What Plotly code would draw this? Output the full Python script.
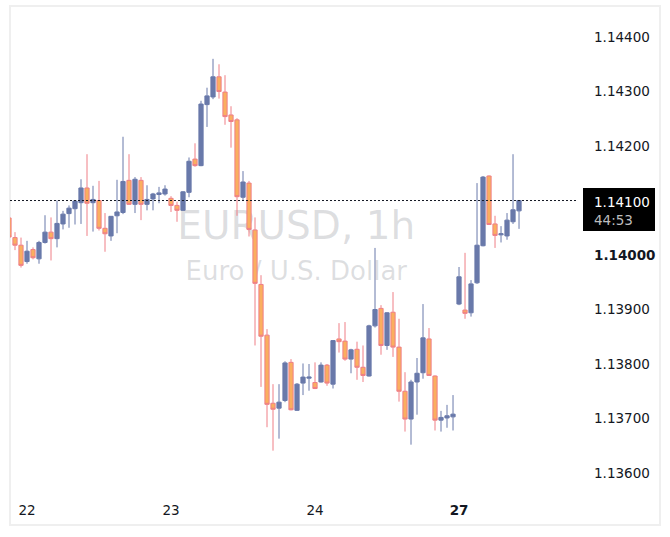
import pandas as pd
import plotly.graph_objects as go

# ---------------- data ----------------
times_fri = pd.date_range("2021-12-21 21:00", periods=72, freq="h")
times_mon = pd.date_range("2021-12-26 21:00", periods=14, freq="h")
times = [t.strftime("%Y-%m-%d %H:%M") for t in list(times_fri) + list(times_mon)]

opens = [1.14068, 1.14032, 1.14018, 1.13988, 1.14010, 1.13993, 1.14023, 1.14042, 1.14030, 1.14057,
         1.14076, 1.14085, 1.14096, 1.14123, 1.14096, 1.14100, 1.14049, 1.14035, 1.14072, 1.14078,
         1.14137, 1.14093, 1.14137, 1.14093, 1.14103, 1.14111, 1.14112, 1.14104, 1.14091, 1.14082,
         1.14115, 1.14176, 1.14164, 1.14276, 1.14290, 1.14327, 1.14299, 1.14257, 1.14248, 1.14106,
         1.14132, 1.14046, 1.13946, 1.13853, 1.13728, 1.13719, 1.13733, 1.13803, 1.13715, 1.13765,
         1.13774, 1.13766, 1.13767, 1.13798, 1.13763, 1.13846, 1.13842, 1.13809, 1.13827, 1.13794,
         1.13778, 1.13870, 1.13902, 1.13834, 1.13895, 1.13831, 1.13750, 1.13699, 1.13767, 1.13784,
         1.13846, 1.13778, 1.13697, 1.13701, 1.13703, 1.13910, 1.13899, 1.13894, 1.13949, 1.14017,
         1.14145, 1.14057, 1.14037, 1.14035, 1.14061, 1.14081]
highs = [1.14072, 1.14042, 1.14032, 1.14026, 1.14014, 1.14026, 1.14073, 1.14069, 1.14100, 1.14081,
         1.14091, 1.14100, 1.14139, 1.14185, 1.14127, 1.14136, 1.14077, 1.14071, 1.14138, 1.14217,
         1.14185, 1.14143, 1.14143, 1.14128, 1.14114, 1.14125, 1.14128, 1.14108, 1.14098, 1.14117,
         1.14179, 1.14205, 1.14283, 1.14307, 1.14360, 1.14350, 1.14330, 1.14273, 1.14251, 1.14154,
         1.14136, 1.14069, 1.13963, 1.13864, 1.13763, 1.13763, 1.13805, 1.13809, 1.13765, 1.13801,
         1.13800, 1.13803, 1.13803, 1.13800, 1.13844, 1.13875, 1.13877, 1.13828, 1.13841, 1.13834,
         1.13872, 1.14013, 1.13908, 1.13895, 1.13932, 1.13883, 1.13785, 1.13771, 1.13811, 1.13910,
         1.13866, 1.13779, 1.13714, 1.13725, 1.13743, 1.13978, 1.14004, 1.13954, 1.14132, 1.14145,
         1.14146, 1.14072, 1.14053, 1.14077, 1.14185, 1.14101]
lows = [1.14031, 1.14009, 1.13977, 1.13984, 1.13992, 1.13984, 1.14021, 1.13990, 1.14014, 1.14047,
        1.14050, 1.14056, 1.14057, 1.14035, 1.14043, 1.14045, 1.14006, 1.14026, 1.14040, 1.14075,
        1.14092, 1.14077, 1.14064, 1.14082, 1.14082, 1.14095, 1.14109, 1.14079, 1.14061, 1.14081,
        1.14106, 1.14162, 1.14163, 1.14235, 1.14286, 1.14287, 1.14239, 1.14197, 1.14072, 1.14101,
        1.14034, 1.13834, 1.13758, 1.13684, 1.13641, 1.13663, 1.13730, 1.13715, 1.13714, 1.13743,
        1.13751, 1.13754, 1.13766, 1.13760, 1.13755, 1.13821, 1.13806, 1.13783, 1.13771, 1.13767,
        1.13777, 1.13867, 1.13817, 1.13826, 1.13813, 1.13731, 1.13676, 1.13652, 1.13707, 1.13773,
        1.13778, 1.13678, 1.13676, 1.13683, 1.13678, 1.13908, 1.13883, 1.13887, 1.13947, 1.14016,
        1.14055, 1.14013, 1.14023, 1.14028, 1.14057, 1.14048]
closes = [1.14033, 1.14018, 1.13981, 1.14007, 1.13995, 1.14023, 1.14042, 1.14030, 1.14058, 1.14075,
          1.14086, 1.14099, 1.14123, 1.14095, 1.14102, 1.14049, 1.14039, 1.14071, 1.14079, 1.14135,
          1.14093, 1.14139, 1.14093, 1.14102, 1.14112, 1.14114, 1.14121, 1.14091, 1.14082, 1.14116,
          1.14172, 1.14164, 1.14277, 1.14292, 1.14327, 1.14300, 1.14254, 1.14245, 1.14107, 1.14134,
          1.14047, 1.13948, 1.13851, 1.13726, 1.13717, 1.13730, 1.13802, 1.13716, 1.13763, 1.13776,
          1.13776, 1.13755, 1.13798, 1.13765, 1.13843, 1.13841, 1.13809, 1.13826, 1.13794, 1.13779,
          1.13870, 1.13900, 1.13834, 1.13894, 1.13831, 1.13750, 1.13699, 1.13767, 1.13783, 1.13848,
          1.13779, 1.13697, 1.13702, 1.13705, 1.13708, 1.13960, 1.13893, 1.13947, 1.14018, 1.14143,
          1.14056, 1.14036, 1.14039, 1.14064, 1.14083, 1.14100]

x_tick_times = ["2021-12-22 00:00", "2021-12-23 00:00", "2021-12-24 00:00", "2021-12-27 00:00"]
x_tick_text = ["22", "23", "24", "<b>27</b>"]
y_tick_vals = [1.136, 1.137, 1.138, 1.139, 1.140, 1.142, 1.143, 1.144]
y_tick_text = ["1.13600", "1.13700", "1.13800", "1.13900", "<b>1.14000</b>",
               "1.14200", "1.14300", "1.14400"]
watermark_title = "EURUSD, 1h"
watermark_sub = "Euro / U.S. Dollar"
countdown = "44:53"

# ---------------- styles ----------------
FONT = "DejaVu Sans"
TXT = "#131722"
BLUE = "#6979AA"
ORANGE_FILL = "#FAAF5F"
ORANGE_LINE = "#EF7F86"

fig = go.Figure()

# watermark on the base subplot (drawn below the overlaid candle subplot)
fig.add_trace(go.Scatter(
    x=[0.504, 0.504], y=[0.546, 0.456], mode="text",
    text=[watermark_title, watermark_sub],
    textfont=dict(family=FONT, size=[39, 26], color="rgba(120,123,134,0.25)"),
    hoverinfo="skip", showlegend=False, xaxis="x", yaxis="y",
))

fig.add_trace(go.Candlestick(
    x=times, open=opens, high=highs, low=lows, close=closes,
    increasing=dict(fillcolor=BLUE, line=dict(color=BLUE, width=1)),
    decreasing=dict(fillcolor=ORANGE_FILL, line=dict(color=ORANGE_LINE, width=1)),
    whiskerwidth=0, hoverinfo="skip", showlegend=False,
    xaxis="x2", yaxis="y2",
))

last = closes[-1]

fig.update_layout(
    width=670, height=537,
    margin=dict(l=10, r=92, t=7, b=41),
    paper_bgcolor="white", plot_bgcolor="white",
    boxgap=0.3, boxgroupgap=0,
    font=dict(family=FONT, size=13.5, color=TXT),
    showlegend=False,
    xaxis=dict(range=[0, 1], visible=False, fixedrange=True),
    yaxis=dict(range=[0, 1], visible=False, fixedrange=True),
    xaxis2=dict(
        overlaying="x", anchor="y2", type="category",
        range=[0.167, 94.83], rangeslider=dict(visible=False),
        showgrid=False, zeroline=False, showline=False, ticks="",
        tickmode="array", tickvals=x_tick_times, ticktext=x_tick_text,
        tickfont=dict(family=FONT, size=13.5, color=TXT),
        ticklabelstandoff=4,
    ),
    yaxis2=dict(
        overlaying="y", anchor="x2", side="right",
        range=[1.135578, 1.144551],
        showgrid=False, zeroline=False, showline=False, ticks="",
        tickmode="array", tickvals=y_tick_vals, ticktext=y_tick_text,
        tickfont=dict(family=FONT, size=13.5, color=TXT),
        ticklabelstandoff=15,
    ),
    shapes=[
        # widget frame
        dict(type="rect", xref="paper", yref="paper",
             x0=0, x1=650 / 568, y0=-29 / 489, y1=490 / 489,
             line=dict(color="#EFEFEF", width=2), fillcolor="rgba(0,0,0,0)", layer="below"),
        # current price line
        dict(type="line", xref="paper", x0=0, x1=1, yref="y2", y0=last, y1=last,
             line=dict(color=TXT, width=1, dash="2px,2px"), layer="above"),
        # price label box
        dict(type="rect", xref="paper", x0=1 + 5 / 568, x1=1 + 77 / 568,
             yref="y2", ysizemode="pixel", yanchor=last, y0=-30.5, y1=12.5,
             fillcolor="#000000", line=dict(width=0), layer="above"),
    ],
    annotations=[
        dict(xref="paper", x=1 + 14 / 568, xanchor="left",
             yref="y2", y=last, yanchor="middle", yshift=-10.5,
             text=f"{last:.5f}<br><span style='color:#BDBDBD'>{countdown}</span>",
             align="left", showarrow=False,
             font=dict(family=FONT, size=13.5, color="#FFFFFF")),
    ],
)

fig.write_html("out.html")
